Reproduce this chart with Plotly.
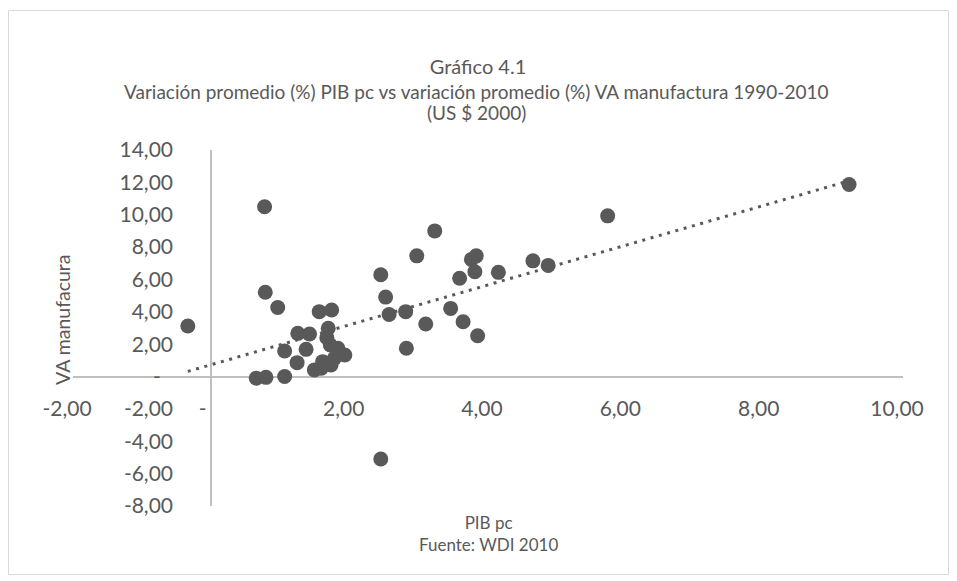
import numpy as np
import plotly.graph_objects as go

# Variación promedio (%) PIB pc  vs  variación promedio (%) VA manufactura
pib_pc = [-0.34, 0.77, 0.78, 0.96, 0.65, 0.79, 1.06, 1.06, 1.24, 1.25, 1.42, 1.37,
          1.49, 1.56, 1.74, 1.69, 1.67, 1.72, 1.83, 1.93, 1.78, 1.61, 1.73, 1.59,
          2.45, 2.52, 2.57, 2.81, 2.82, 2.97, 3.10, 3.23, 3.46, 3.59, 3.64, 3.76,
          3.83, 3.81, 3.85, 4.15, 4.65, 4.87, 5.73, 9.22, 2.45]
va_manufactura = [3.12, 10.49, 5.21, 4.27, -0.10, -0.05, 0.00, 1.58, 0.86, 2.67, 2.63, 1.68,
                  0.41, 4.01, 4.11, 2.98, 2.40, 1.95, 1.75, 1.33, 1.13, 0.92, 0.72, 0.51,
                  6.29, 4.91, 3.83, 4.01, 1.75, 7.46, 3.25, 9.00, 4.21, 6.07, 3.39, 7.24,
                  7.46, 6.48, 2.52, 6.44, 7.15, 6.87, 9.93, 11.87, -5.10]

x_tick_values = [-2, 0, 2, 4, 6, 8, 10]
x_tick_labels = ["-2,00", "-\u2009\u2009", "2,00", "4,00", "6,00", "8,00", "10,00"]
y_tick_values = [-8, -6, -4, -2, 0, 2, 4, 6, 8, 10, 12, 14]
y_tick_labels = ["-8,00", "-6,00", "-4,00", "-2,00", "-\u2007", "2,00", "4,00",
                 "6,00", "8,00", "10,00", "12,00", "14,00"]

title_text = "Gráfico 4.1"
subtitle_line1 = "Variación promedio (%) PIB pc vs variación promedio (%) VA manufactura 1990-2010"
subtitle_line2 = "(US $ 2000)"
x_title = "PIB pc<br>Fuente: WDI 2010"
y_title = "VA manufacura"

# linear trendline from the data
slope, intercept = np.polyfit(pib_pc, va_manufactura, 1)
trend_x = [min(pib_pc), max(pib_pc)]
trend_y = [slope * v + intercept for v in trend_x]

GREY = "#595959"
FONT = "Lato"

# page body has an 8px margin: work in reference-pixel coordinates minus 8
OFF = 8
W, H = 957 - OFF, 581 - OFF
L = 73 - OFF
R = W - (903 - OFF)
T = 150 - OFF
B = H - (506 - OFF)
PW = W - L - R
PH = H - T - B


def px_x(p):
    return (p - OFF - L) / PW


def px_y(p):
    return (H - B - (p - OFF)) / PH


fig = go.Figure()
fig.add_trace(go.Scatter(
    x=pib_pc, y=va_manufactura, mode="markers",
    marker=dict(size=15, color=GREY, line=dict(width=0)),
    showlegend=False, hoverinfo="x+y",
))
fig.add_trace(go.Scatter(
    x=trend_x, y=trend_y, mode="lines",
    line=dict(color=GREY, width=3, dash="3px,5.6px"),
    showlegend=False, hoverinfo="skip",
))

fig.update_layout(
    width=W, height=H,
    margin=dict(l=L, r=R, t=T, b=B),
    paper_bgcolor="white", plot_bgcolor="white",
    font=dict(family=FONT, color=GREY),
    title=dict(text=title_text, x=(478 - OFF) / W, xref="container", xanchor="center",
               y=1 - (67 - OFF) / H, yref="container", yanchor="middle",
               font=dict(family=FONT, size=20, color=GREY)),
    xaxis=dict(range=[-2, 10], showgrid=False, showline=False,
               zeroline=True, zerolinecolor="#bfbfbf", zerolinewidth=1.5,
               tickvals=x_tick_values, ticktext=x_tick_labels, ticks="",
               anchor="free", position=px_y(394), ticklabelshift=-6,
               tickfont=dict(family=FONT, size=21, color=GREY)),
    yaxis=dict(range=[-8, 14], showgrid=False, showline=False,
               zeroline=True, zerolinecolor="#bfbfbf", zerolinewidth=1.5,
               tickvals=y_tick_values, ticktext=y_tick_labels, ticks="",
               anchor="free", position=px_x(173),
               tickfont=dict(family=FONT, size=21, color=GREY)),
    annotations=[
        dict(text=subtitle_line1, xref="paper", yref="paper",
             x=px_x(476), y=px_y(92), xanchor="center", yanchor="middle",
             showarrow=False, font=dict(family=FONT, size=19, color=GREY)),
        dict(text=subtitle_line2, xref="paper", yref="paper",
             x=px_x(476), y=px_y(113), xanchor="center", yanchor="middle",
             showarrow=False, font=dict(family=FONT, size=19, color=GREY)),
        dict(text=x_title, xref="paper", yref="paper",
             x=px_x(488), y=px_y(533.5), xanchor="center", yanchor="middle",
             showarrow=False, font=dict(family=FONT, size=17, color=GREY)),
        dict(text=y_title, xref="paper", yref="paper", textangle=-90,
             x=px_x(62), y=px_y(320), xanchor="center", yanchor="middle",
             showarrow=False, font=dict(family=FONT, size=19.5, color=GREY)),
    ],
    shapes=[
        dict(type="rect", xref="paper", yref="paper",
             x0=px_x(8.5), x1=px_x(948.5), y0=px_y(574.5), y1=px_y(10.5),
             line=dict(color="#d9d9d9", width=1), fillcolor="rgba(0,0,0,0)",
             layer="below"),
    ],
)

fig.write_html("out.html")
